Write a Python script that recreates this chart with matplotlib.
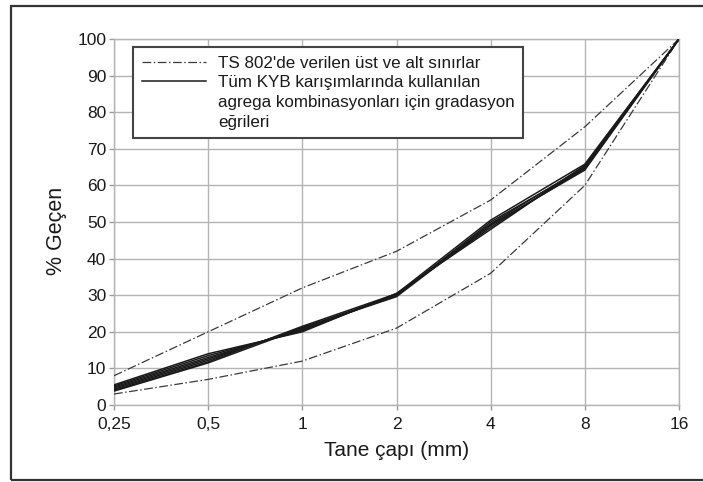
import matplotlib
matplotlib.use("Agg")
import matplotlib.pyplot as plt
from matplotlib.patches import Rectangle
from matplotlib.lines import Line2D

plt.rcParams['font.family'] = ['Liberation Sans', 'DejaVu Sans']

# Sieve sizes (mm)
sizes = [0.25, 0.5, 1, 2, 4, 8, 16]
size_labels = ['0,25', '0,5', '1', '2', '4', '8', '16']

# TS 802 limits
upper_limit = [8, 20, 32, 42, 56, 76, 100]
lower_limit = [3, 7, 12, 21, 36, 60, 100]

# Gradation curves of aggregate combinations used in all mixes
kyb_1 = [5.5, 14.0, 20.0, 30.5, 48.0, 65.5, 100]
kyb_2 = [5.2, 13.5, 20.3, 30.3, 48.5, 65.0, 100]
kyb_3 = [4.9, 13.0, 20.6, 30.0, 49.0, 64.5, 100]
kyb_4 = [4.6, 12.6, 20.9, 30.2, 49.5, 65.2, 100]
kyb_5 = [4.3, 12.2, 21.2, 29.8, 50.0, 64.8, 100]
kyb_6 = [4.0, 11.8, 21.5, 30.4, 50.5, 65.8, 100]
kyb_7 = [3.8, 11.5, 21.0, 29.6, 49.2, 64.2, 100]
kyb_curves = [kyb_1, kyb_2, kyb_3, kyb_4, kyb_5, kyb_6, kyb_7]

y_ticks = list(range(0, 101, 10))

fig = plt.figure(figsize=(7.03, 4.82), dpi=100)
ax = fig.add_axes([114/703, 1-405/482, (679-114)/703, (405-39)/482])

dash = (0, (7, 2, 1.2, 2))
ax.plot(sizes, upper_limit, color='#3a3a3a', lw=0.9, linestyle=dash, zorder=3)
ax.plot(sizes, lower_limit, color='#3a3a3a', lw=0.9, linestyle=dash, zorder=3)
for c in kyb_curves:
    ax.plot(sizes, c, color='#1a1a1a', lw=1.1, zorder=4)

ax.set_xscale('log', base=2)
ax.set_xlim(0.25, 16)
ax.set_ylim(0, 100)
ax.set_xticks(sizes)
ax.set_xticklabels(size_labels)
ax.minorticks_off()
ax.set_yticks(y_ticks)
ax.grid(True, color='#b4b4b4', lw=1.0)
for s in ax.spines.values():
    s.set_color('#b4b4b4')
    s.set_linewidth(1.0)
ax.tick_params(axis='both', colors='#9a9a9a', length=3.5, width=1.0, labelsize=12.5,
               labelcolor='#1a1a1a')
ax.tick_params(axis='x', pad=5)
ax.tick_params(axis='y', pad=2)

ax.set_xlabel('Tane çapı (mm)', fontsize=15, color='#1a1a1a')
ax.set_ylabel('% Geçen', fontsize=15.5, color='#1a1a1a')
ax.xaxis.set_label_coords((397-114)/565, (405-441)/366)
ax.yaxis.set_label_coords((67-114)/565, (405-230.5)/366)

handles = [
    Line2D([], [], color='#3a3a3a', lw=0.9, linestyle=dash),
    Line2D([], [], color='#1a1a1a', lw=1.1),
    Line2D([], [], color='none'),
    Line2D([], [], color='none'),
]
labels = [
    "TS 802'de verilen üst ve alt sınırlar",
    "Tüm KYB karışımlarında kullanılan",
    "agrega kombinasyonları için gradasyon",
    "eğrileri",
]
leg = ax.legend(handles, labels, loc='upper left',
                bbox_to_anchor=((133-114)/565, (405-47)/366),
                borderaxespad=0, fontsize=12.25, frameon=True, fancybox=False,
                edgecolor='#444444', framealpha=1, handlelength=3.8,
                handletextpad=0.7, borderpad=0.5, labelspacing=0.28)
leg.get_frame().set_linewidth(1.5)
for t in leg.get_texts():
    t.set_color('#1a1a1a')

fig.patches.append(Rectangle((11/703, 2/482), 1.0, (480-6)/482, transform=fig.transFigure,
                             fill=False, edgecolor='#333333', lw=1.6))

fig.savefig('out.png', dpi=100)
